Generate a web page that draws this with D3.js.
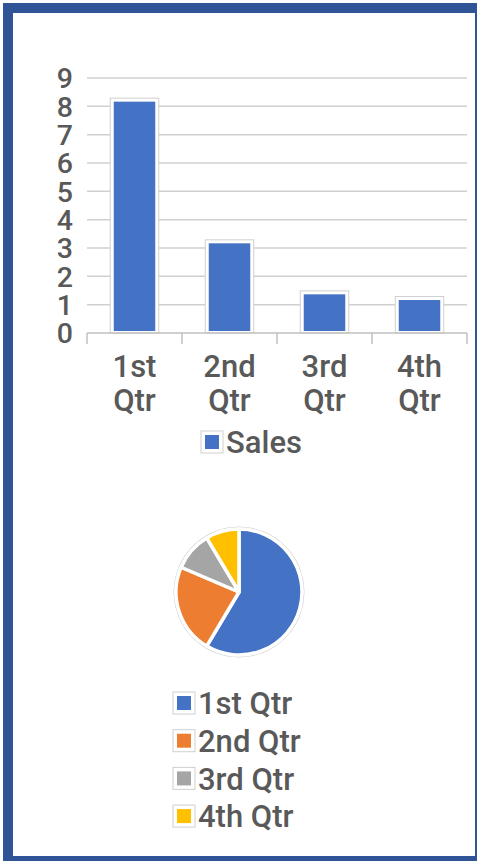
<!doctype html><html><head>
<style>
  body { margin: 0; background: #fff; }
  text { font-family: Roboto, "Noto Sans", sans-serif; font-weight: 500; fill: #595959; }
</style>
</head><body><script src='https://d3js.org/d3.v7.min.js'></script>

<script>
// Data
const quarters  = ["1st Qtr", "2nd Qtr", "3rd Qtr", "4th Qtr"];
const sales     = [8.2, 3.2, 1.4, 1.2];
const yTicks    = [0, 1, 2, 3, 4, 5, 6, 7, 8, 9];
const seriesName = "Sales";
const pieColors = ["#4472C4", "#ED7D31", "#A5A5A5", "#FFC000"];

//  Dimensions
const W = 477, H = 861;

const svg = d3.select("body")
              .append("svg")
              .attr("width", W)
              .attr("height", H);

// frame
svg.append("rect").attr("x", 3).attr("y", 3).attr("width", W - 3).attr("height", H - 3)
   .attr("fill", "#2F5597");
svg.append("rect").attr("x", 13).attr("y", 13).attr("width", 462).attr("height", 843)
   .attr("fill", "#fff");

// ---------- bar chart ----------
const x = d3.scaleBand()
            .domain(quarters)
            .range([87, 467]);

const y = d3.scaleLinear()
            .domain([0, 9])
            .range([333, 78]);

// gridlines
svg.append("g")
   .selectAll("line")
   .data(yTicks.slice(1))
   .join("line")
   .attr("x1", 87).attr("x2", 467)
   .attr("y1", d => y(d)).attr("y2", d => y(d))
   .attr("stroke", "#d0d0d0")
   .attr("stroke-width", 1.5);

// y labels
svg.append("g")
   .selectAll("text")
   .data(yTicks)
   .join("text")
   .attr("x", 73)
   .attr("y", d => y(d))
   .attr("dy", "0.36em")
   .attr("text-anchor", "end")
   .attr("font-size", 28.5)
   .text(d => d);

// bars
const bw = x.bandwidth() * 0.5;
const bars = svg.append("g");
bars.selectAll("rect.outer")
   .data(sales)
   .join("rect")
   .attr("class", "outer")
   .attr("x", (d, i) => x(quarters[i]) + (x.bandwidth() - bw) / 2 - 0.5)
   .attr("y", d => y(d) - 2.5)
   .attr("width", bw + 1)
   .attr("height", d => y(0) - y(d) + 2.5)
   .attr("fill", "#fff")
   .attr("stroke", "#d0d0d0")
   .attr("stroke-width", 1);
bars.selectAll("rect.inner")
   .data(sales)
   .join("rect")
   .attr("class", "inner")
   .attr("x", (d, i) => x(quarters[i]) + (x.bandwidth() - bw) / 2 + 3)
   .attr("y", d => y(d) + 1)
   .attr("width", bw - 6)
   .attr("height", d => y(0) - y(d) - 3)
   .attr("fill", "#4472C4");

// x axis line + ticks at band edges
svg.append("line")
   .attr("x1", 87).attr("x2", 467)
   .attr("y1", y(0)).attr("y2", y(0))
   .attr("stroke", "#c0c0c0").attr("stroke-width", 1.5);
const edges = quarters.map(q => x(q)).concat([x.range()[1]]);
svg.append("g")
   .selectAll("line")
   .data(edges)
   .join("line")
   .attr("x1", d => d).attr("x2", d => d)
   .attr("y1", y(0)).attr("y2", y(0) + 11)
   .attr("stroke", "#c0c0c0").attr("stroke-width", 1.5);

// x labels (two lines)
const xl = svg.append("g")
   .selectAll("text")
   .data(quarters)
   .join("text")
   .attr("text-anchor", "middle")
   .attr("font-size", 31);
xl.append("tspan")
  .attr("x", d => x(d) + x.bandwidth() / 2)
  .attr("y", 377)
  .text(d => d.split(" ")[0]);
xl.append("tspan")
  .attr("x", d => x(d) + x.bandwidth() / 2)
  .attr("y", 411)
  .text(d => d.split(" ")[1]);

// legend
function swatch(g, cx, cy, color) {
  g.append("rect").attr("x", cx).attr("y", cy - 11).attr("width", 22).attr("height", 22)
   .attr("fill", "#fff").attr("stroke", "#d0d0d0").attr("stroke-width", 1);
  g.append("rect").attr("x", cx + 4).attr("y", cy - 7).attr("width", 14).attr("height", 14)
   .attr("fill", color);
}
const lg = svg.append("g");
swatch(lg, 201, 442, "#4472C4");
lg.append("text").attr("x", 226).attr("y", 442).attr("dy", "0.36em")
  .attr("font-size", 31).text(seriesName);

// ---------- pie chart ----------
const pcx = 239, pcy = 592, pr = 63;
const pie = d3.pie().sort(null);
const arc = d3.arc().innerRadius(0).outerRadius(pr);

const pg = svg.append("g").attr("transform", `translate(${pcx},${pcy})`);
pg.append("circle").attr("r", pr + 2).attr("fill", "#fff")
  .attr("stroke", "#d0d0d0").attr("stroke-width", 1);
pg.selectAll("path")
  .data(pie(sales))
  .join("path")
  .attr("d", arc)
  .attr("fill", (d, i) => pieColors[i])
  .attr("stroke", "#fff")
  .attr("stroke-width", 3.5)
  .attr("stroke-linejoin", "round");

// pie legend
const pl = svg.append("g");
quarters.forEach((q, i) => {
  const cy = 703 + i * 37.7;
  swatch(pl, 173, cy, pieColors[i]);
  pl.append("text").attr("x", 198).attr("y", cy).attr("dy", "0.36em")
    .attr("font-size", 31).text(q);
});
</script></body></html>
